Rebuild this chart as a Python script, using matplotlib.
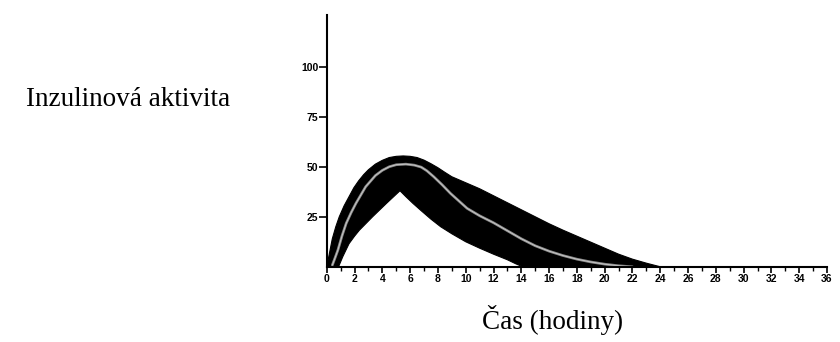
import matplotlib
matplotlib.use("Agg")
import matplotlib.pyplot as plt
import numpy as np
from matplotlib.ticker import MultipleLocator

# ---- data ----
upper_h = [0, 0.1, 0.4, 0.65, 0.9, 1.25, 1.6, 1.95, 2.3, 2.65, 3.0, 3.5, 4.0, 4.5, 5.0,
           5.5, 6.0, 6.5, 7.0, 7.5, 8.0, 8.5, 9.0, 10.0, 11.0, 12.0, 13.0, 14.0, 15.0,
           16.0, 17.0, 18.0, 19.0, 20.0, 21.0, 22.0, 23.0, 24.0]
upper_v = [0, 3.5, 14, 20, 25, 30.5, 35, 39.5, 43, 46, 48.5, 51.3, 53.2, 54.6, 55.2,
           55.4, 55.2, 54.6, 53.3, 51.5, 49.5, 47.2, 45.0, 42.0, 39.0, 35.5, 32.0, 28.5, 25.0,
           21.5, 18.3, 15.3, 12.3, 9.3, 6.3, 3.8, 1.8, 0]

lower_h = [0.85, 1.15, 1.6, 2.0, 2.35, 3.3, 4.3, 5.27, 5.7, 6.2, 6.8, 7.5, 8.2, 9.0,
           10.0, 11.0, 12.0, 13.0, 13.6, 14.1]
lower_v = [0, 5, 11.5, 15.3, 18.3, 25, 31.7, 38, 35, 31.7, 28, 23.8, 20, 16.5,
           12.5, 9.3, 6.3, 3.5, 1.5, 0]

mean_h = [0.4, 0.6, 0.8, 1.1, 1.4, 1.75, 2.1, 2.8, 3.5, 4.0, 4.5, 5.0, 5.7, 6.3, 6.8,
          7.2, 7.7, 8.3, 8.9, 10.1, 11.0, 12.0, 13.0, 14.0, 15.0, 16.0, 17.0, 18.0, 19.0,
          20.0, 21.0, 22.0]
mean_v = [0.8, 4.5, 8.3, 15.5, 21.7, 27, 31.7, 40, 45.6, 48.2, 50, 51, 51.3, 50.8, 49.8,
          48, 45, 41, 36.7, 29.2, 25.5, 22, 18, 14, 10.5, 7.8, 5.6, 3.8, 2.4,
          1.3, 0.5, 0]

y_ticks = [25, 50, 75, 100]
x_ticks = list(range(0, 37, 2))

ylabel_text = "Inzulinová aktivita"
xlabel_text = "Čas (hodiny)"

# ---- figure ----
fig = plt.figure(figsize=(8.4, 3.42), dpi=100)
ax = fig.add_axes([0.389, 0.220, 0.5955, 0.737])

ax.fill(np.concatenate([upper_h, lower_h[::-1]]),
        np.concatenate([upper_v, lower_v[::-1]]),
        color="black", linewidth=0.8, edgecolor="black", joinstyle="round")
ax.plot(mean_h, mean_v, color="#8c8c8c", linewidth=1.9, solid_capstyle="round",
        solid_joinstyle="round")
ax.plot(mean_h, mean_v, color="#e6e6e6", linewidth=0.5, alpha=0.8,
        solid_joinstyle="round")

ax.set_xlim(0, 36)
ax.set_ylim(0, 126)

for s in ["top", "right"]:
    ax.spines[s].set_visible(False)
ax.spines["left"].set_linewidth(1.5)
ax.spines["bottom"].set_linewidth(1.5)

ax.set_yticks(y_ticks)
ax.set_yticklabels([str(v) for v in y_ticks])
ax.set_xticks(x_ticks)
ax.set_xticklabels([str(v) for v in x_ticks])
ax.xaxis.set_minor_locator(MultipleLocator(1))

tick_family = ["Liberation Sans Narrow", "Liberation Sans", "DejaVu Sans"]
for lab in ax.get_xticklabels() + ax.get_yticklabels():
    lab.set_fontfamily(tick_family)
    lab.set_fontweight("bold")
    lab.set_fontsize(7.5)

ax.tick_params(axis="y", direction="out", length=5.5, width=1.2, pad=0.5)
ax.tick_params(axis="x", which="major", direction="out", length=4.5, width=1.2, pad=1)
ax.tick_params(axis="x", which="minor", direction="out", length=3, width=1.0)

serif = ["Liberation Serif", "DejaVu Serif"]
fig.text(0.274, 0.690, ylabel_text, ha="right", va="baseline",
         fontsize=19.5, family=serif)
fig.text(0.658, 0.038, xlabel_text, ha="center", va="baseline",
         fontsize=19.5, family=serif)

fig.savefig("out.png", dpi=100, facecolor="white")
